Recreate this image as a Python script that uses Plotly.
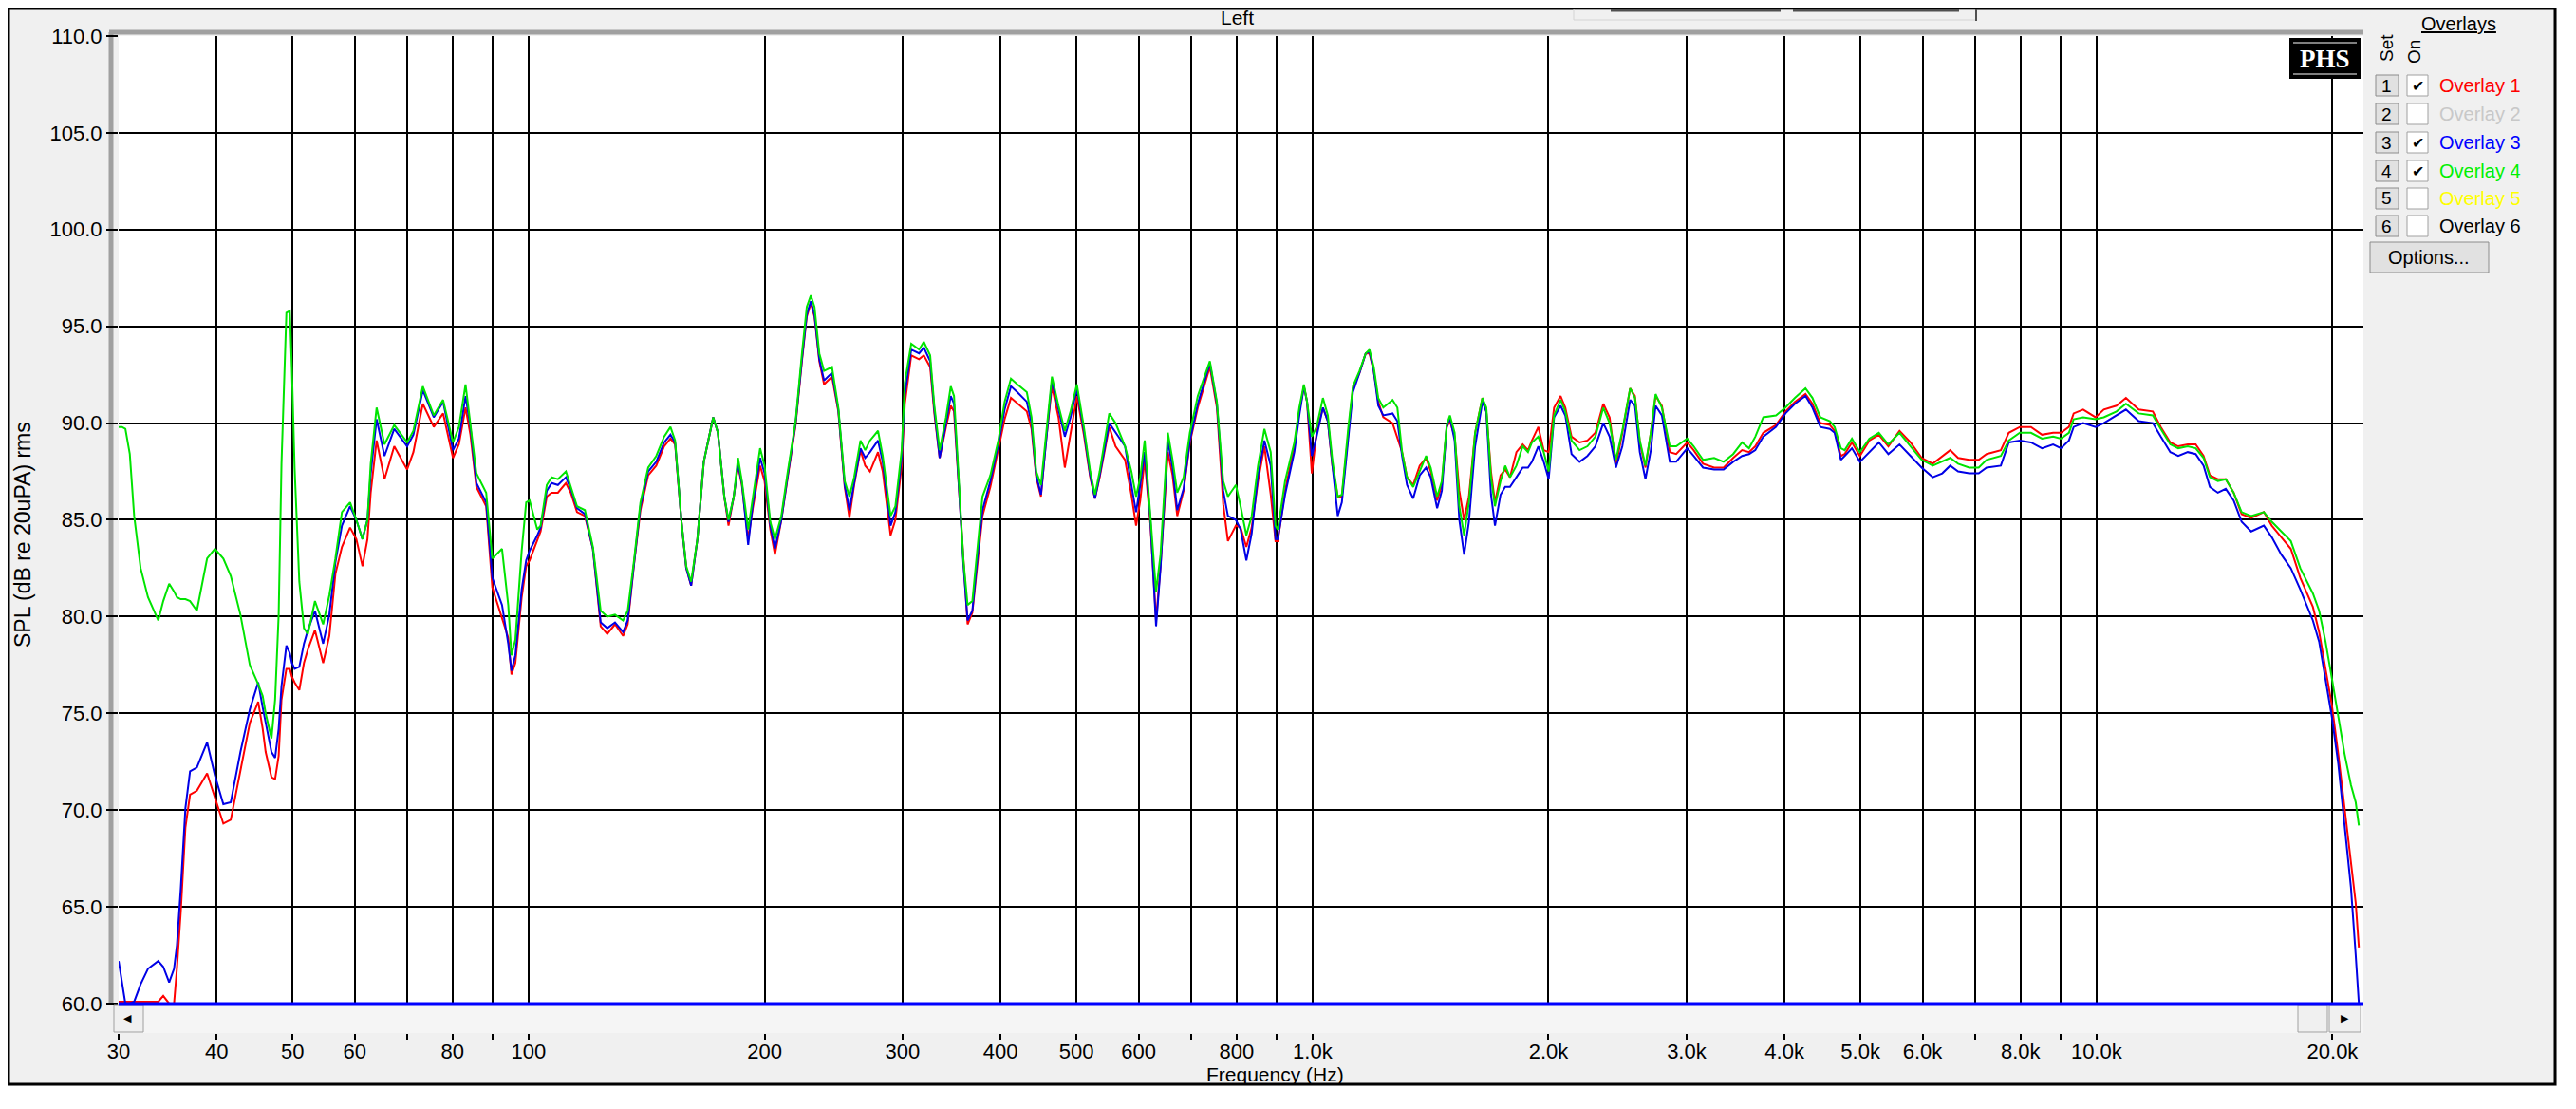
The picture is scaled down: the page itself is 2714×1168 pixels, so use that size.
import numpy as np
import plotly.graph_objects as go

# Frequency points (Hz) shared by the three measured overlays
freq = [
    30.0, 30.3, 30.6, 31.0, 31.4, 32.0, 32.7, 33.7, 34.2, 34.8,
    35.3, 35.6, 36.0, 36.5, 37.0, 37.75, 38.9, 39.8, 40.8, 41.7,
    42.9, 44.1, 45.2, 45.8, 46.2, 47.0, 47.5, 48.0, 48.4, 49.1,
    49.6, 49.9, 50.3, 51.0, 51.7, 52.3, 53.4, 54.7, 55.7, 56.7,
    57.8, 59.2, 60.3, 61.4, 62.3, 62.9, 64.0, 65.5, 67.4, 70.0,
    71.3, 73.3, 75.7, 77.8, 80.1, 81.5, 83.1, 84.3, 85.8, 88.3,
    89.9, 92.5, 94.2,
    95.1, 96.2, 98.0, 99.3, 100.3, 102.6, 103.6, 105.5, 107.0, 109.0,
    111.6, 113.2, 115.3, 118.0, 120.8, 123.6, 126.0, 128.9, 132.0, 133.8,
    136.3, 138.9, 142.1, 145.5, 148.9, 151.7, 153.8, 156.7, 158.9, 161.2,
    164.2, 167.3, 172.0, 174.4, 177.7, 179.9, 182.7, 185.0, 187.1, 190.6,
    193.2, 197.4, 200.0, 203.4, 206.2, 210.1, 214.1, 219.1, 223.2, 226.4,
    229.1, 231.6, 234.9, 238.2, 243.8, 248.4, 253.1, 256.6, 260.2, 265.1,
    268.8, 272.6, 279.1, 283.0, 289.6,
    293.7, 299.2, 302.0, 307.7, 314.9, 319.3, 325.3, 329.3, 334.5, 340.8,
    345.6, 348.9, 353.8, 358.7, 363.1, 368.2, 374.1, 379.3, 388.2, 397.4,
    404.8, 412.4, 420.2, 432.1, 438.1, 444.2, 450.4, 456.7, 465.2, 474.2,
    483.1, 491.3, 500.5, 510.9, 520.5, 527.8, 535.2, 550.4, 560.7, 576.6,
    587.4, 595.6, 602.9, 610.8, 621.1, 631.6, 639.9, 653.8, 662.9, 672.1,
    684.8, 697.5, 713.9, 739.7, 755.1, 769.3, 780.0, 798.4, 809.6, 823.4,
    836.4, 852.1, 868.2, 884.5,
    897, 903, 922.5, 948, 962, 975, 984, 998, 1012, 1031,
    1046, 1060, 1077, 1090, 1111, 1126, 1148, 1169, 1182, 1197,
    1213, 1231, 1265, 1283, 1301, 1320, 1344, 1370, 1396, 1415,
    1442, 1462, 1483, 1497, 1518, 1539, 1561, 1583, 1612, 1647,
    1666, 1689, 1709, 1737, 1761, 1786, 1820, 1854, 1883, 1905,
    1941, 1972, 2001, 2033, 2072, 2101, 2140, 2191, 2242, 2295,
    2349, 2393, 2438, 2484, 2542, 2578, 2615, 2659, 2701, 2739,
    2790, 2856,
    2910, 3006, 3063, 3149, 3253, 3345, 3440, 3531, 3604, 3671,
    3758, 3901, 4011, 4124, 4254, 4342, 4444, 4570, 4634, 4720,
    4773, 4876, 4991, 5132, 5277, 5426, 5607, 5792, 5984, 6182,
    6357, 6507, 6660, 6881, 7075, 7241, 7551, 7729, 7985, 8250,
    8522, 8804, 9011, 9223,
    9352, 9616, 9972, 10217, 10605, 10903, 11320, 11800, 12078, 12421,
    12713, 13075, 13382, 13697, 13953, 14282, 14618, 14962, 15315, 15750,
    16349, 16734, 17210, 17696, 18195, 18880, 19231, 19596, 19965, 20340,
    20723, 21113, 21411, 21610,
]

# Overlay 1 (red), dB SPL
overlay1 = [
    60.1, 60.1, 60.1, 60.1, 60.1, 60.1, 60.1, 60.1, 60.4, 60.0,
    60.0, 61.8, 64.7, 69.1, 70.8, 71.0, 71.9, 70.6, 69.3, 69.5,
    72.0, 74.5, 75.6, 74.2, 73.0, 71.7, 71.6, 72.8, 75.7, 77.3,
    77.3, 76.9, 76.6, 76.2, 77.6, 78.3, 79.3, 77.6, 79.0, 82.2,
    83.6, 84.6, 84.0, 82.6, 84.0, 86.4, 89.1, 87.1, 88.8, 87.6,
    88.5, 91.0, 89.8, 90.5, 88.2, 88.9, 90.8, 89.4, 86.7, 85.7,
    81.5, 79.9, 78.9,
    77.0, 77.6, 81.0, 82.6, 82.9, 83.9, 84.4, 86.2, 86.4, 86.4,
    86.9, 86.4, 85.4, 85.2, 83.5, 79.5, 79.1, 79.6, 79.0, 79.6,
    82.7, 85.5, 87.3, 87.8, 88.8, 89.2, 88.9, 84.9, 82.5, 81.6,
    84.0, 88.0, 90.3, 89.5, 86.2, 84.7, 86.2, 87.8, 86.8, 84.0,
    85.6, 87.8, 87.0, 84.5, 83.2, 85.0, 87.2, 89.9, 93.2, 95.5,
    96.2, 95.5, 93.2, 92.0, 92.4, 90.6, 86.7, 85.1, 86.8, 88.6,
    87.8, 87.5, 88.5, 87.5, 84.2,
    85.0, 87.8, 91.0, 93.5, 93.3, 93.5, 92.9, 90.5, 88.2, 89.8,
    90.9, 90.6, 86.8, 82.6, 79.6, 80.2, 82.9, 85.2, 86.7, 88.6,
    90.2, 91.3, 91.0, 90.6, 89.7, 87.2, 86.2, 88.9, 91.9, 90.3,
    87.7, 89.5, 91.4, 89.4, 87.2, 86.1, 87.2, 89.8, 88.8, 88.1,
    86.3, 84.7, 86.0, 88.1, 84.8, 79.8, 82.6, 88.5, 87.3, 85.2,
    86.5, 89.0, 90.8, 92.9, 90.8, 85.8, 83.9, 84.7, 84.6, 83.6,
    84.6, 87.0, 88.8, 86.3,
    83.9, 83.9, 86.5, 88.8, 90.6, 91.9, 91.1, 87.4, 89.5, 90.8,
    90.1, 87.8, 86.2, 86.2, 89.5, 91.8, 92.6, 93.6, 93.6, 92.7,
    91.1, 90.3, 90.0, 89.3, 88.5, 87.2, 86.8, 87.8, 88.2, 87.5,
    86.0, 86.8, 89.8, 90.1, 89.3, 86.5, 85.0, 86.2, 89.5, 91.3,
    90.6, 87.5, 85.9, 87.3, 87.6, 87.2, 88.5, 88.9, 88.6, 89.1,
    89.8, 88.6, 88.5, 90.8, 91.4, 90.8, 89.3, 89.0, 89.1, 89.5,
    91.0, 90.3, 87.8, 89.5, 91.8, 91.4, 89.0, 87.7, 89.5, 91.4,
    90.9, 88.5,
    88.4, 89.0, 88.6, 87.9, 87.7, 87.7, 88.2, 88.6, 88.5, 88.8,
    89.5, 89.9, 90.6, 91.1, 91.5, 91.0, 90.0, 89.9, 89.6, 88.3,
    88.4, 89.0, 88.3, 89.1, 89.4, 88.8, 89.6, 89.0, 88.2, 87.9,
    88.3, 88.6, 88.2, 88.1, 88.1, 88.4, 88.6, 89.5, 89.8, 89.8,
    89.4, 89.5, 89.5, 89.8,
    90.5, 90.7, 90.3, 90.7, 90.9, 91.3, 90.7, 90.6, 89.8, 89.0,
    88.8, 88.9, 88.9, 88.3, 87.3, 87.1, 87.1, 86.4, 85.3, 85.1,
    85.4, 84.7, 84.1, 83.5, 82.0, 80.5, 79.2, 77.3, 75.4, 72.9,
    70.2, 67.4, 65.2, 62.9,
]

# Overlay 3 (blue), dB SPL
overlay3 = [
    62.2, 61.2, 60.0, 60.0, 60.1, 61.0, 61.8, 62.2, 61.9, 61.1,
    61.8, 63.0, 65.9, 70.1, 72.0, 72.2, 73.5, 71.8, 70.3, 70.4,
    73.0, 75.2, 76.6, 75.3, 74.5, 73.0, 72.7, 74.2, 76.4, 78.5,
    78.1, 77.6, 77.3, 77.4, 78.6, 79.3, 80.3, 78.6, 80.1, 82.8,
    84.7, 85.7, 85.0, 84.0, 85.0, 87.4, 90.2, 88.3, 89.7, 88.8,
    89.4, 91.7, 90.3, 91.1, 88.6, 89.2, 91.4, 89.8, 86.9, 85.9,
    82.0, 80.6, 78.6,
    77.2, 78.0, 81.4, 82.9, 83.4, 84.2, 84.6, 86.5, 86.9, 86.8,
    87.2, 86.6, 85.6, 85.3, 83.5, 79.7, 79.4, 79.7, 79.2, 79.8,
    82.8, 85.7, 87.5, 88.0, 89.0, 89.4, 89.0, 84.9, 82.5, 81.6,
    84.0, 88.0, 90.3, 89.5, 86.2, 84.9, 86.2, 87.9, 86.9, 83.7,
    85.8, 88.2, 87.4, 84.7, 83.5, 85.0, 87.3, 90.0, 93.3, 95.6,
    96.3, 95.6, 93.3, 92.2, 92.6, 90.7, 86.8, 85.5, 86.9, 88.7,
    88.2, 88.5, 89.1, 88.0, 84.7,
    85.4, 88.2, 91.5, 93.8, 93.6, 93.9, 93.2, 90.7, 88.2, 90.0,
    91.4, 91.0, 86.9, 82.7, 79.8, 80.3, 83.2, 85.5, 87.0, 88.9,
    90.7, 91.9, 91.6, 91.1, 90.0, 87.3, 86.3, 89.0, 92.2, 90.7,
    89.3, 90.3, 91.8, 89.6, 87.3, 86.1, 87.3, 90.0, 89.5, 88.8,
    86.8, 85.4, 86.8, 88.5, 85.0, 79.5, 82.5, 89.1, 87.7, 85.5,
    86.6, 89.1, 91.0, 93.1, 91.0, 86.5, 85.2, 85.0, 84.5, 82.9,
    84.3, 87.3, 89.1, 87.8,
    84.0, 84.0, 86.3, 88.5, 90.4, 91.9, 91.1, 88.3, 89.3, 90.8,
    90.1, 87.8, 85.2, 85.9, 89.1, 91.6, 92.6, 93.6, 93.7, 92.7,
    90.9, 90.4, 90.5, 90.1, 88.3, 86.8, 86.1, 87.3, 87.7, 87.2,
    85.6, 86.5, 89.8, 90.3, 89.1, 85.0, 83.2, 84.9, 88.8, 91.1,
    90.6, 86.3, 84.7, 86.3, 86.7, 86.7, 87.2, 87.7, 87.7, 88.0,
    88.8, 88.0, 87.1, 90.3, 90.9, 90.4, 88.4, 88.0, 88.3, 88.8,
    90.0, 89.3, 87.7, 88.8, 91.2, 90.9, 88.5, 87.1, 88.6, 90.9,
    90.4, 88.0,
    88.0, 88.7, 88.3, 87.7, 87.6, 87.6, 88.0, 88.3, 88.4, 88.6,
    89.3, 89.8, 90.5, 91.0, 91.4, 90.8, 89.8, 89.7, 89.5, 88.1,
    88.3, 88.7, 88.0, 88.5, 89.0, 88.4, 88.9, 88.3, 87.7, 87.2,
    87.4, 87.8, 87.5, 87.4, 87.4, 87.7, 87.8, 89.0, 89.1, 89.0,
    88.7, 88.9, 88.7, 89.1,
    89.8, 90.0, 89.8, 90.0, 90.4, 90.7, 90.1, 90.0, 89.3, 88.5,
    88.3, 88.5, 88.4, 87.8, 86.7, 86.4, 86.6, 86.0, 84.9, 84.4,
    84.7, 84.1, 83.2, 82.5, 81.4, 79.8, 78.7, 76.8, 74.8, 72.4,
    69.3, 66.0, 62.5, 60.0,
]

# Overlay 4 (green), dB SPL
overlay4 = [
    89.8, 89.8, 89.7, 88.4, 85.2, 82.5, 81.0, 79.8, 80.8, 81.7,
    81.3, 81.0, 80.9, 80.9, 80.8, 80.3, 83.0, 83.5, 83.0, 82.1,
    80.1, 77.5, 76.5, 75.9, 75.0, 73.7, 75.7, 80.1, 87.9, 95.7,
    95.8, 92.8, 87.7, 81.8, 79.4, 79.1, 80.8, 79.6, 81.1, 83.0,
    85.4, 85.9, 85.0, 84.0, 85.0, 87.9, 90.8, 88.9, 89.9, 89.0,
    89.6, 91.9, 90.4, 91.2, 89.0, 89.8, 92.0, 89.8, 87.4, 86.4,
    83.0, 83.5, 80.6,
    78.0, 78.8, 83.4, 85.9, 86.0, 84.5, 84.7, 86.8, 87.2, 87.1,
    87.5, 86.7, 85.7, 85.5, 83.6, 80.3, 80.0, 80.1, 79.8, 80.3,
    82.9, 85.9, 87.7, 88.3, 89.3, 89.8, 89.1, 84.9, 82.6, 81.8,
    84.0, 88.0, 90.3, 89.5, 86.2, 85.0, 86.2, 88.2, 87.0, 84.5,
    86.2, 88.7, 87.8, 84.9, 84.0, 85.2, 87.5, 90.1, 93.6, 96.0,
    96.6, 96.0, 93.6, 92.7, 92.9, 90.8, 87.0, 86.2, 87.2, 89.1,
    88.6, 89.1, 89.6, 88.3, 85.2,
    85.7, 88.6, 92.1, 94.1, 93.8, 94.2, 93.5, 90.9, 88.6, 90.3,
    91.9, 91.4, 87.0, 82.9, 80.6, 80.8, 83.7, 86.2, 87.3, 89.1,
    91.1, 92.3, 92.0, 91.6, 90.3, 87.5, 86.8, 89.1, 92.4, 90.9,
    89.6, 90.6, 92.0, 89.8, 87.5, 86.3, 87.5, 90.5, 90.0, 88.8,
    87.5, 86.2, 87.2, 89.1, 85.2, 81.3, 83.2, 89.5, 88.1, 86.4,
    87.2, 89.5, 91.4, 93.2, 91.1, 87.0, 86.2, 86.8, 85.7, 84.2,
    85.2, 87.8, 89.7, 88.5,
    84.7, 84.5, 87.0, 89.0, 90.8, 92.0, 91.1, 89.3, 89.8, 91.3,
    90.4, 88.1, 86.2, 86.3, 89.8, 91.9, 92.7, 93.6, 93.8, 92.9,
    91.3, 90.8, 91.2, 90.8, 88.5, 87.2, 86.7, 87.5, 88.3, 87.7,
    86.2, 87.0, 89.9, 90.4, 89.5, 85.7, 84.2, 85.9, 89.5, 91.3,
    90.8, 87.2, 85.7, 87.0, 87.8, 87.2, 87.8, 88.8, 88.5, 89.0,
    89.3, 88.5, 87.5, 90.4, 91.2, 90.6, 89.1, 88.6, 88.8, 89.3,
    90.8, 90.0, 88.1, 89.6, 91.8, 91.3, 89.1, 87.8, 89.5, 91.5,
    90.8, 88.8,
    88.8, 89.2, 88.8, 88.1, 88.2, 88.0, 88.4, 89.0, 88.7, 89.3,
    90.3, 90.4, 90.8, 91.3, 91.8, 91.3, 90.3, 90.1, 89.8, 88.7,
    88.6, 89.2, 88.5, 89.2, 89.5, 88.9, 89.5, 88.8, 88.1, 87.8,
    88.0, 88.2, 87.9, 87.7, 87.7, 88.1, 88.3, 89.1, 89.5, 89.5,
    89.2, 89.3, 89.2, 89.5,
    90.2, 90.3, 90.2, 90.3, 90.6, 91.0, 90.5, 90.4, 89.7, 88.9,
    88.7, 88.8, 88.7, 88.2, 87.2, 87.0, 87.1, 86.4, 85.4, 85.2,
    85.4, 84.9, 84.4, 83.9, 82.5, 81.2, 80.3, 78.7, 76.8, 74.8,
    72.9, 71.3, 70.4, 69.2,
]

x_ticks = [30, 40, 50, 60, 70, 80, 90, 100, 200, 300, 400, 500, 600, 700, 800, 900,
           1000, 2000, 3000, 4000, 5000, 6000, 7000, 8000, 9000, 10000, 20000]
x_labels = ["30", "40", "50", "60", "", "80", "", "100", "200", "300", "400", "500", "600", "",
            "800", "", "1.0k", "2.0k", "3.0k", "4.0k", "5.0k", "6.0k", "", "8.0k", "",
            "10.0k", "20.0k"]
y_ticks = [60, 65, 70, 75, 80, 85, 90, 95, 100, 105, 110]
y_labels = ["60.0", "65.0", "70.0", "75.0", "80.0", "85.0", "90.0", "95.0", "100.0", "105.0", "110.0"]

overlay_names = ["Overlay 1", "Overlay 2", "Overlay 3", "Overlay 4", "Overlay 5", "Overlay 6"]
overlay_colors = ["#FF0000", "#C8C8C8", "#0000FF", "#00F000", "#FFFF00", "#000000"]
overlay_on = [True, False, True, True, False, False]

FONT = "Arial, Liberation Sans, sans-serif"
W, H = 2714, 1168
OFF = 8  # the page body margin shifts the figure by this much
# plot area in page pixels
PL, PR, PT, PB = 125, 2490, 38, 1088


def px(X):
    return (X - PL) / (PR - PL)


def py(Y):
    return (PB - Y) / (PB - PT)


fig = go.Figure()
for ys, col in [(overlay1, "#FF0000"), (overlay3, "#0000E6"), (overlay4, "#00E400")]:
    fig.add_trace(go.Scatter(x=freq, y=ys, mode="lines",
                             line=dict(color=col, width=2), showlegend=False))

shapes = []
ann = []


def rect(x0, y0, x1, y1, fill=None, line=None, lw=1, layer="above"):
    shapes.append(dict(type="rect", xref="paper", yref="paper",
                       x0=px(x0), x1=px(x1), y0=py(y1), y1=py(y0),
                       fillcolor=fill or "rgba(0,0,0,0)",
                       line=dict(color=line or "rgba(0,0,0,0)", width=lw if line else 0),
                       layer=layer))


def seg(x0, y0, x1, y1, color, lw, layer="above"):
    shapes.append(dict(type="line", xref="paper", yref="paper",
                       x0=px(x0), x1=px(x1), y0=py(y0), y1=py(y1),
                       line=dict(color=color, width=lw), layer=layer))


def text(X, Y, s, size=21, color="black", xanchor="center", angle=0, family=FONT):
    ann.append(dict(x=px(X), y=py(Y), xref="paper", yref="paper", text=s,
                    showarrow=False, xanchor=xanchor, yanchor="middle",
                    textangle=angle, font=dict(family=family, size=size, color=color)))


# white page outside the window frame
rect(2694, -10, W + 10, H + 10, fill="white", layer="below")
rect(-10, 1144, W + 10, H + 10, fill="white", layer="below")
# window frame
rect(OFF + 1, OFF + 1, 2692, 1142, line="black", lw=3)
# sunken border of the plot
seg(117, 34, 117, 1057, "#A0A0A0", 5, layer="below")
seg(115, 34, 2490, 34, "#A0A0A0", 5, layer="below")

# top bar widgets
rect(1658, OFF + 2, 2082, 21, line="#D4D4D4", lw=1)
seg(1697, OFF + 3, 1876, OFF + 3, "#505050", 3)
seg(1889, OFF + 3, 2064, OFF + 3, "#505050", 3)
seg(2082, OFF + 2, 2082, 22, "#505050", 2)

# horizontal scrollbar under the plot
rect(PL, 1058, PR, PB, fill="#F5F5F5")
rect(120, 1058, 151, 1087, fill="#F0F0F0", line="#A0A0A0")
rect(2421, 1058, 2452, 1087, fill="#F0F0F0", line="#A0A0A0")
rect(2454, 1058, 2487, 1087, fill="#F0F0F0", line="#A0A0A0")
text(134, 1072, "◀", size=11)
text(2470, 1072, "▶", size=11)
# blue baseline at 60 dB
shapes.append(dict(type="line", xref="paper", yref="y", x0=0, x1=1, y0=60, y1=60,
                   line=dict(color="#0000FF", width=3), layer="above"))

# PHS logo
rect(2412, 40, 2487, 83, fill="black")
seg(2416, 45, 2483, 45, "white", 1)
seg(2416, 78, 2483, 78, "white", 1)
text(2449, 62, "<b>PHS</b>", size=27, color="white", family="Liberation Serif, serif")

# overlays panel
text(2590, 25, "<u>Overlays</u>", size=20)
text(2514, 51, "Set", size=19, angle=-90)
text(2543, 55, "On", size=19, angle=-90)
rows = [90, 120, 150, 180, 209, 238]
for i, (name, col, on) in enumerate(zip(overlay_names, overlay_colors, overlay_on)):
    r = rows[i]
    rect(2503, r - 11, 2527, r + 11, fill="#E1E1E1", line="#8C8C8C")
    text(2515, r, str(i + 1), size=19)
    rect(2536, r - 11, 2558, r + 11, fill="white", line="#A0A0A0")
    if on:
        text(2547, r, "✔", size=16)
    text(2568, r, name, size=20, color=col, xanchor="left")
rect(2497, 255, 2622, 287, fill="#E1E1E1", line="#8C8C8C")
text(2559, 271, "Options...", size=20)

# titles
text(1303, 18, "Left", size=21)
text(1343, 1131, "Frequency (Hz)", size=21)
text(24, 563, "SPL (dB re 20uPA) rms", size=23, angle=-90)

fig.update_layout(
    width=W - OFF, height=H - OFF, autosize=False,
    margin=dict(l=PL - OFF, r=W - PR, t=PT - OFF, b=H - PB, pad=0),
    paper_bgcolor="#F0F0F0", plot_bgcolor="white",
    shapes=shapes, annotations=ann, showlegend=False,
    font=dict(family=FONT, color="black"),
)
fig.update_xaxes(
    type="log", range=[np.log10(30), np.log10(21900)],
    tickvals=x_ticks, ticktext=x_labels,
    showgrid=True, gridcolor="black", gridwidth=2,
    ticks="outside", ticklen=6, tickwidth=2, tickcolor="black",
    tickfont=dict(size=22, family=FONT, color="black"),
    ticklabelstandoff=-6,
    showline=False, zeroline=False,
)
fig.update_yaxes(
    range=[60 - (PB - 1057) / 20.36, 110],
    tickvals=y_ticks, ticktext=y_labels,
    showgrid=True, gridcolor="black", gridwidth=2,
    ticks="outside", ticklen=12, tickwidth=2, tickcolor="black",
    tickfont=dict(size=22, family=FONT, color="black"),
    showline=False, zeroline=False,
)

fig.write_html("out.html")
